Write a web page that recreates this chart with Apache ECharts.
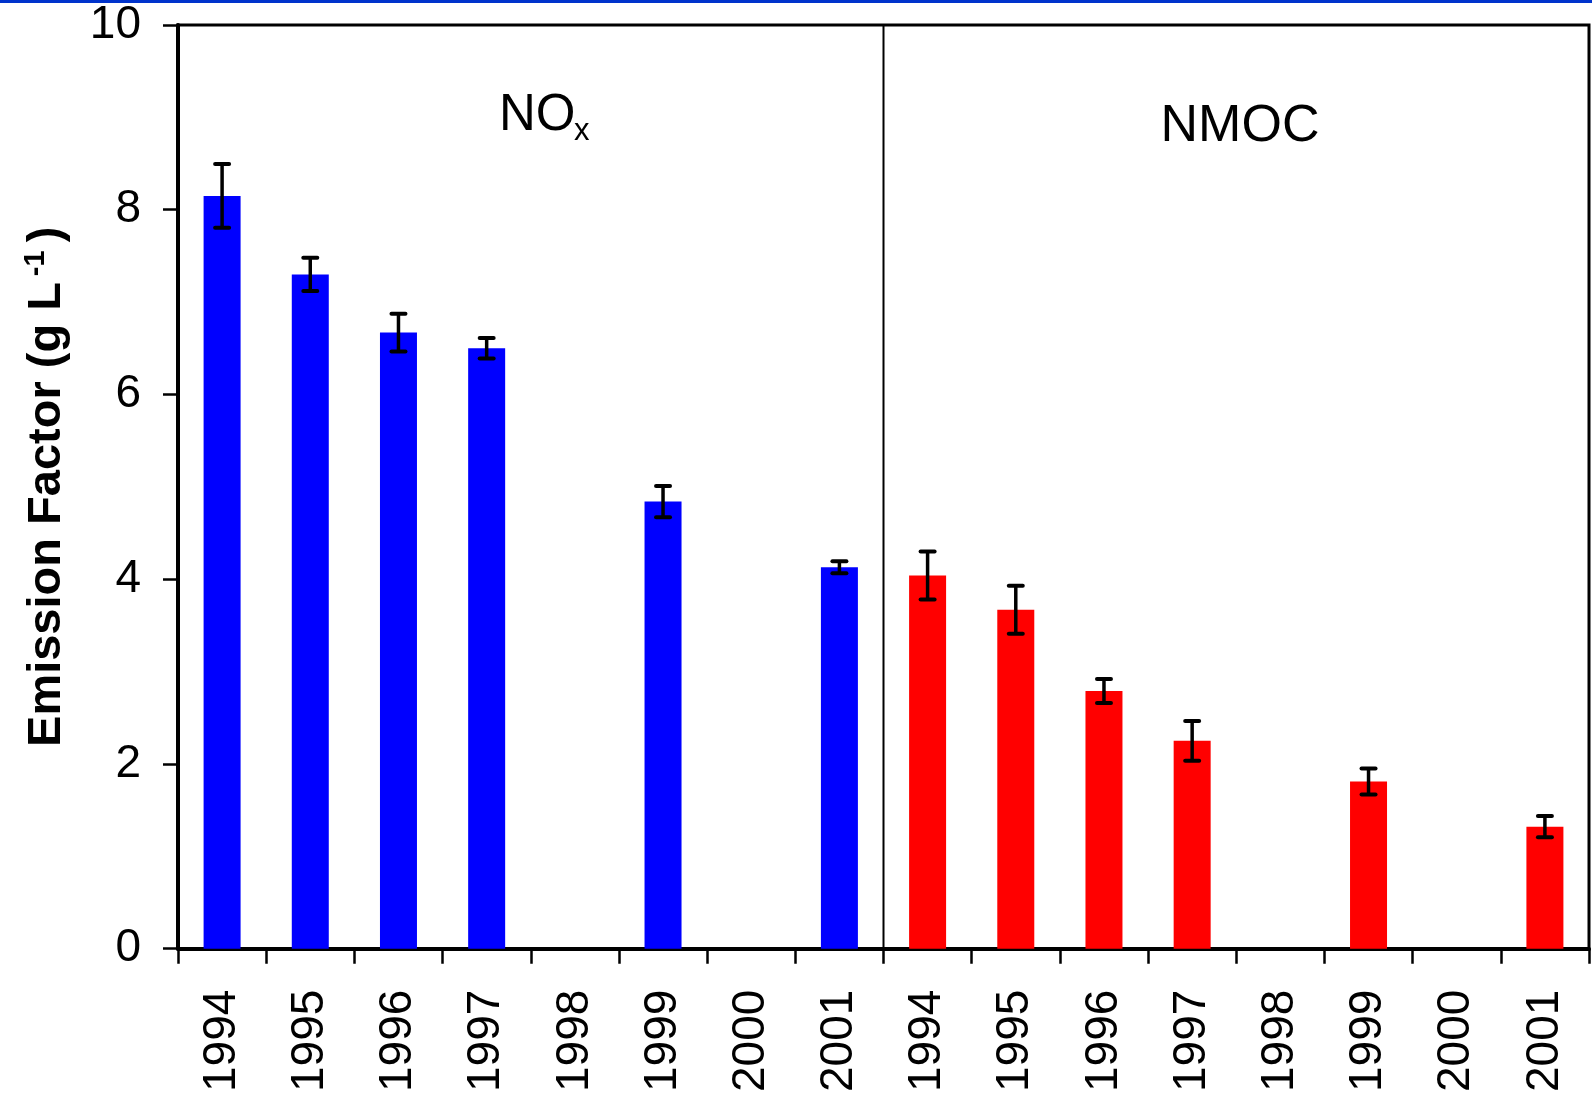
<!DOCTYPE html>
<html>
<head>
<meta charset="utf-8">
<title>Emission Factor</title>
<script src="https://cdn.jsdelivr.net/npm/echarts@6/dist/echarts.min.js"></script>
<style>
  html, body { margin: 0; padding: 0; background: #fff; }
  #chart { width: 1592px; height: 1095px; }
</style>
</head>
<body>
<div id="chart"></div>
<script>
// Model years, shown twice: once for NOx, once for NMOC
const yearLabels = ['1994', '1995', '1996', '1997', '1998', '1999', '2000', '2001'];
const groupNames = ['NOx', 'NMOC'];

// Emission factors (g/L) and half-widths of the error bars; null = no measurement
const noxValues  = [8.15, 7.30, 6.67, 6.50, null, 4.84, null, 4.13];
const noxErrors  = [0.345, 0.18, 0.205, 0.11, null, 0.17, null, 0.065];
const nmocValues = [4.04, 3.67, 2.79, 2.25, null, 1.81, null, 1.32];
const nmocErrors = [0.26, 0.26, 0.13, 0.215, null, 0.14, null, 0.115];

const yTicks = { min: 0, max: 10, interval: 2 };

const FONT = '"Liberation Sans", Arial, Helvetica, sans-serif';

// one category per (group, year) pair
const categories = [];
groupNames.forEach(g => yearLabels.forEach(y => categories.push(g + '|' + y)));

const blank = yearLabels.map(() => null);
const noxBars = noxValues.concat(blank);
const nmocBars = blank.concat(nmocValues);

function errorRows(values, errors, offset) {
  const rows = [];
  values.forEach((v, i) => {
    if (v != null && errors[i] != null) rows.push([i + offset, v - errors[i], v + errors[i]]);
  });
  return rows;
}
const errorData = errorRows(noxValues, noxErrors, 0)
  .concat(errorRows(nmocValues, nmocErrors, yearLabels.length));

function renderErrorBar(params, api) {
  const x = api.value(0);
  const lo = api.coord([x, api.value(1)]);
  const hi = api.coord([x, api.value(2)]);
  const hw = 7;
  const stroke = { stroke: '#000', lineWidth: 3.5 };
  const cap = { stroke: '#000', lineWidth: 4, lineCap: 'round' };
  return {
    type: 'group',
    children: [
      { type: 'line', shape: { x1: lo[0], y1: lo[1], x2: hi[0], y2: hi[1] }, style: stroke },
      { type: 'line', shape: { x1: lo[0] - hw, y1: lo[1], x2: lo[0] + hw, y2: lo[1] }, style: cap },
      { type: 'line', shape: { x1: hi[0] - hw, y1: hi[1], x2: hi[0] + hw, y2: hi[1] }, style: cap }
    ]
  };
}

const chart = echarts.init(document.getElementById('chart'), null, { renderer: 'canvas' });

const option = {
  animation: false,
  backgroundColor: '#fff',
  grid: {
    left: 178, right: 3, top: 25, bottom: 144,
    show: true, borderColor: '#000', borderWidth: 3, backgroundColor: 'transparent'
  },
  xAxis: {
    type: 'category',
    data: categories,
    boundaryGap: true,
    axisLine: { show: true, lineStyle: { color: '#000', width: 4 } },
    axisTick: { show: true, inside: false, length: 15, interval: 0, lineStyle: { color: '#000', width: 2.5 } },
    axisLabel: {
      interval: 0, rotate: 90, margin: 41,
      fontFamily: FONT, fontSize: 46, color: '#000',
      formatter: v => v.split('|')[1]
    },
    splitLine: { show: false }
  },
  yAxis: {
    type: 'value',
    min: yTicks.min, max: yTicks.max, interval: yTicks.interval,
    axisLine: { show: true, lineStyle: { color: '#000', width: 4 } },
    axisTick: { show: true, inside: false, length: 15, lineStyle: { color: '#000', width: 2.5 } },
    axisLabel: { margin: 37, fontFamily: FONT, fontSize: 46, color: '#000' },
    splitLine: { show: false },
    name: '{t|Emission Factor (g L}{s|-1}{t|)}',
    nameLocation: 'middle',
    nameRotate: 90,
    nameGap: 103,
    nameTextStyle: {
      rich: {
        t: { fontFamily: FONT, fontSize: 47, fontWeight: 'bold', color: '#000', lineHeight: 56, verticalAlign: 'middle' },
        s: { fontFamily: FONT, fontSize: 29, fontWeight: 'bold', color: '#000', lineHeight: 56, verticalAlign: 'top', padding: [2, 8, 0, 6] }
      }
    }
  },
  graphic: [
    { type: 'rect', id: 'topband', shape: { x: 0, y: 0, width: 1592, height: 3 }, style: { fill: '#0033cc' }, z: 100 },
    { type: 'text', id: 'noxMain', x: 499, y: 116, style: { text: 'NO', font: '51px ' + FONT, fill: '#000', verticalAlign: 'middle', align: 'left' }, z: 100 },
    { type: 'text', id: 'noxSub', x: 574, y: 131, style: { text: 'x', font: '31px ' + FONT, fill: '#000', verticalAlign: 'middle', align: 'left' }, z: 100 },
    { type: 'text', id: 'nmoc', x: 1240, y: 127, style: { text: 'NMOC', font: '52px ' + FONT, fill: '#000', verticalAlign: 'middle', align: 'center' }, z: 100 }
  ],
  series: [
    {
      name: 'NOx', type: 'bar', data: noxBars, barWidth: 37, barGap: '-100%',
      itemStyle: { color: '#0000ff' }
    },
    {
      name: 'NMOC', type: 'bar', data: nmocBars, barWidth: 37, barGap: '-100%',
      itemStyle: { color: '#ff0000' }
    },
    {
      name: 'error', type: 'custom', data: errorData,
      encode: { x: 0, y: [1, 2] },
      renderItem: renderErrorBar, z: 10
    }
  ]
};

chart.setOption(option);

// vertical divider on the boundary between the two groups
const xLast = chart.convertToPixel({ xAxisIndex: 0 }, yearLabels.length - 1);
const xFirst = chart.convertToPixel({ xAxisIndex: 0 }, yearLabels.length);
const xDiv = (xLast + xFirst) / 2;
const yTop = chart.convertToPixel({ yAxisIndex: 0 }, yTicks.max);
const yBottom = chart.convertToPixel({ yAxisIndex: 0 }, yTicks.min);
chart.setOption({
  graphic: [
    { type: 'line', id: 'divider', shape: { x1: xDiv, y1: yTop, x2: xDiv, y2: yBottom }, style: { stroke: '#000', lineWidth: 2 }, z: 50 }
  ]
});
</script>
</body>
</html>
